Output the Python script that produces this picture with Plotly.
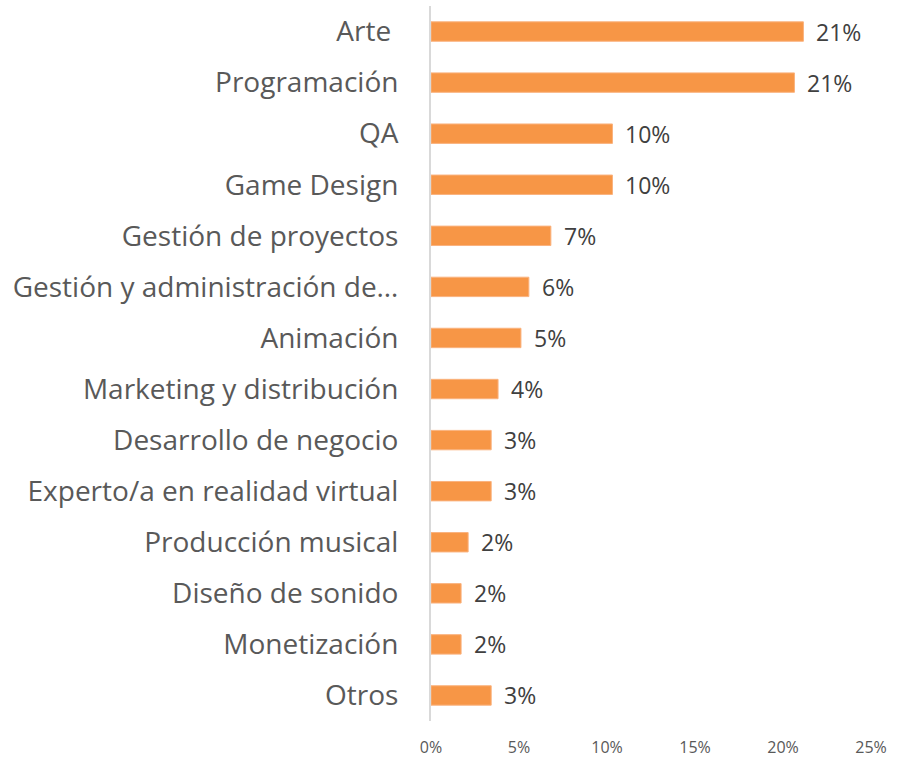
import plotly.graph_objects as go

categories = [
    "Arte\u00a0", "Programación", "QA", "Game Design", "Gestión de proyectos",
    "Gestión y administración de…", "Animación", "Marketing y distribución",
    "Desarrollo de negocio", "Experto/a en realidad virtual",
    "Producción musical", "Diseño de sonido", "Monetización", "Otros",
]
values = [0.2116, 0.2065, 0.1031, 0.1031, 0.0681, 0.0556, 0.0511, 0.0381,
          0.0342, 0.0342, 0.0211, 0.0171, 0.0171, 0.0342]
x_ticks = [0, 0.05, 0.10, 0.15, 0.20, 0.25]
x_tick_labels = ["0%", "5%", "10%", "15%", "20%", "25%"]

FONT = "Open Sans, Carlito, Calibri, sans-serif"

fig = go.Figure(go.Bar(
    x=values, y=categories, orientation="h",
    marker=dict(color="#F79646", line=dict(color="#FAB27E", width=1)),
    hoverinfo="skip",
))

annotations = [
    dict(x=v, y=c, text=f"{round(v*100):d}%", xref="x", yref="y",
         xanchor="left", yanchor="middle", xshift=11, showarrow=False,
         font=dict(family=FONT, size=23, color="#404040"))
    for c, v in zip(categories, values)
]

fig.update_layout(
    width=910, height=757,
    margin=dict(l=431, r=39, t=6, b=36),
    paper_bgcolor="white", plot_bgcolor="white",
    bargap=0.62,
    showlegend=False,
    annotations=annotations,
    xaxis=dict(range=[0, 0.25], tickvals=x_ticks, ticktext=x_tick_labels,
               showgrid=False, zeroline=False, showline=False,
               tickfont=dict(family=FONT, size=16, color="#595959"),
               ticks="", ticklabelstandoff=15, fixedrange=True,
               automargin=False),
    yaxis=dict(autorange="reversed", showgrid=False, zeroline=False,
               showline=True, linecolor="#D9D9D9", linewidth=2,
               ticks="", ticklabelstandoff=25,
               tickfont=dict(family=FONT, size=28, color="#595959"),
               fixedrange=True, automargin=False),
)

fig.write_html("out.html", config={"displayModeBar": False},
               post_script="document.body.style.margin='0';")
